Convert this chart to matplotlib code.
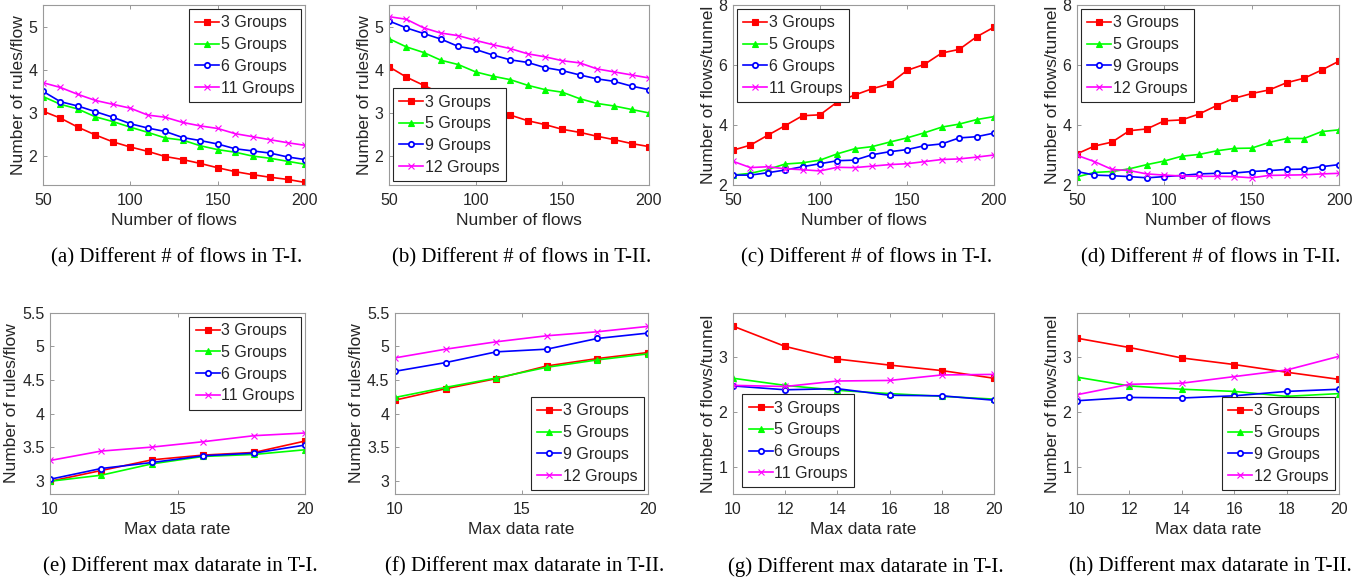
"""Eight small line charts: rules/flow and flows/tunnel for T-I and T-II."""

import matplotlib

matplotlib.use("Agg")
import matplotlib.pyplot as plt

plt.rcParams["font.family"] = ["Liberation Sans", "DejaVu Sans"]

flows = [50, 60, 70, 80, 90, 100, 110, 120, 130, 140, 150, 160, 170, 180, 190, 200]
rates = [10, 12, 14, 16, 18, 20]

labels_t1 = ["3 Groups", "5 Groups", "6 Groups", "11 Groups"]
labels_t2 = ["3 Groups", "5 Groups", "9 Groups", "12 Groups"]

# (a) rules/flow vs flows, T-I
rules_flows_t1 = [
    [3.04, 2.88, 2.67, 2.49, 2.33, 2.21, 2.11, 1.99, 1.92, 1.83, 1.73, 1.64, 1.57, 1.51, 1.46, 1.39],
    [3.38, 3.20, 3.09, 2.91, 2.80, 2.67, 2.55, 2.42, 2.37, 2.24, 2.15, 2.09, 2.00, 1.95, 1.88, 1.81],
    [3.50, 3.26, 3.16, 3.03, 2.90, 2.75, 2.65, 2.57, 2.43, 2.36, 2.28, 2.17, 2.12, 2.07, 1.98, 1.92],
    [3.70, 3.59, 3.43, 3.29, 3.20, 3.11, 2.95, 2.90, 2.78, 2.70, 2.64, 2.52, 2.45, 2.38, 2.31, 2.25],
]
# (b) rules/flow vs flows, T-II
rules_flows_t2 = [
    [4.07, 3.83, 3.64, 3.45, 3.33, 3.22, 3.12, 2.95, 2.82, 2.73, 2.62, 2.55, 2.46, 2.38, 2.29, 2.22],
    [4.72, 4.53, 4.40, 4.22, 4.12, 3.95, 3.85, 3.77, 3.64, 3.54, 3.48, 3.33, 3.22, 3.16, 3.08, 3.00],
    [5.13, 4.97, 4.84, 4.71, 4.54, 4.47, 4.34, 4.23, 4.17, 4.05, 3.98, 3.88, 3.79, 3.73, 3.62, 3.54],
    [5.23, 5.17, 4.97, 4.85, 4.79, 4.68, 4.58, 4.49, 4.37, 4.30, 4.21, 4.16, 4.02, 3.95, 3.88, 3.81],
]
# (c) flows/tunnel vs flows, T-I
tunnel_flows_t1 = [
    [3.16, 3.33, 3.66, 3.98, 4.31, 4.34, 4.77, 5.00, 5.21, 5.37, 5.82, 6.02, 6.40, 6.52, 6.94, 7.26],
    [2.33, 2.39, 2.52, 2.70, 2.74, 2.83, 3.04, 3.21, 3.28, 3.43, 3.57, 3.74, 3.93, 4.03, 4.18, 4.28],
    [2.33, 2.33, 2.41, 2.50, 2.61, 2.71, 2.81, 2.83, 3.01, 3.11, 3.18, 3.31, 3.37, 3.57, 3.61, 3.73],
    [2.79, 2.58, 2.61, 2.54, 2.51, 2.47, 2.59, 2.58, 2.63, 2.68, 2.71, 2.78, 2.85, 2.87, 2.93, 3.00],
]
# (d) flows/tunnel vs flows, T-II
tunnel_flows_t2 = [
    [3.04, 3.30, 3.43, 3.81, 3.87, 4.14, 4.17, 4.37, 4.65, 4.89, 5.05, 5.17, 5.41, 5.56, 5.83, 6.13],
    [2.27, 2.42, 2.45, 2.54, 2.68, 2.80, 2.96, 3.02, 3.14, 3.22, 3.23, 3.42, 3.55, 3.55, 3.78, 3.84],
    [2.45, 2.33, 2.31, 2.28, 2.24, 2.28, 2.32, 2.37, 2.39, 2.40, 2.45, 2.48, 2.52, 2.53, 2.61, 2.68],
    [2.99, 2.78, 2.52, 2.48, 2.37, 2.33, 2.30, 2.29, 2.29, 2.28, 2.24, 2.32, 2.33, 2.34, 2.37, 2.39],
]
# (e) rules/flow vs max data rate, T-I
rules_rate_t1 = [
    [2.99, 3.15, 3.31, 3.38, 3.42, 3.59],
    [2.99, 3.08, 3.25, 3.36, 3.39, 3.46],
    [3.02, 3.18, 3.27, 3.37, 3.41, 3.53],
    [3.30, 3.44, 3.50, 3.58, 3.67, 3.71],
]
# (f) rules/flow vs max data rate, T-II
rules_rate_t2 = [
    [4.20, 4.37, 4.52, 4.71, 4.82, 4.91],
    [4.24, 4.39, 4.53, 4.69, 4.80, 4.89],
    [4.63, 4.76, 4.92, 4.96, 5.12, 5.20],
    [4.83, 4.96, 5.07, 5.16, 5.22, 5.30],
]
# (g) flows/tunnel vs max data rate, T-I
tunnel_rate_t1 = [
    [3.56, 3.19, 2.96, 2.85, 2.75, 2.61],
    [2.61, 2.48, 2.39, 2.33, 2.28, 2.23],
    [2.47, 2.40, 2.42, 2.30, 2.29, 2.21],
    [2.48, 2.46, 2.56, 2.57, 2.67, 2.68],
]
# (h) flows/tunnel vs max data rate, T-II
tunnel_rate_t2 = [
    [3.34, 3.17, 2.98, 2.86, 2.72, 2.59],
    [2.63, 2.47, 2.41, 2.37, 2.28, 2.33],
    [2.20, 2.26, 2.25, 2.29, 2.37, 2.41],
    [2.31, 2.50, 2.52, 2.64, 2.76, 3.01],
]

captions = [
    "(a) Different # of flows in T-I.",
    "(b) Different # of flows in T-II.",
    "(c) Different # of flows in T-I.",
    "(d) Different # of flows in T-II.",
    "(e) Different max datarate in T-I.",
    "(f) Different max datarate in T-II.",
    "(g) Different max datarate in T-I.",
    "(h) Different max datarate in T-II.",
]

colors = ["#ff0000", "#00ff00", "#0000ff", "#ff00ff"]
markers = ["s", "^", "o", "x"]
gray = "#262626"


def draw_panel(fig, rect, x, series, labels, ylim, yticks, xticks, xlabel, ylabel,
               legend_loc, legend_anchor=None):
    """Draw one MATLAB-like line panel."""
    ax = fig.add_axes(rect)
    for i, ys in enumerate(series):
        face = "white" if markers[i] == "o" else colors[i]
        ax.plot(x, ys, color=colors[i], marker=markers[i], markersize=3.8,
                markerfacecolor=face, markeredgecolor=colors[i],
                markeredgewidth=1.3 if markers[i] == "o" else 0.8,
                linewidth=1.2, label=labels[i])
    ax.set_xlim(x[0], x[-1])
    ax.set_ylim(*ylim)
    ax.set_xticks(xticks)
    ax.set_yticks(yticks)
    ax.set_yticklabels([f"{t:g}" for t in yticks])
    ax.tick_params(direction="in", length=3, width=0.6, colors="#888888",
                   labelcolor=gray, labelsize=11.5, top=True, right=False)
    ax.tick_params(axis="x", pad=6)
    ax.tick_params(axis="y", pad=4)
    for s in ax.spines.values():
        s.set_color("#9a9a9a")
        s.set_linewidth(0.8)
    ax.set_xlabel(xlabel, fontsize=12.5, color=gray, labelpad=3)
    ax.set_ylabel(ylabel, fontsize=12.5, color=gray, labelpad=2)
    leg = ax.legend(loc=legend_loc, bbox_to_anchor=legend_anchor, fontsize=11.5,
                    handlelength=1.5, handletextpad=0.1, labelspacing=0.42,
                    borderpad=0.4, borderaxespad=0.25, fancybox=False,
                    framealpha=1.0)
    leg.get_frame().set_edgecolor("#262626")
    leg.get_frame().set_linewidth(0.8)
    for t in leg.get_texts():
        t.set_color(gray)
    return ax


fig = plt.figure(figsize=(13.64, 5.84), dpi=100)

top_row = [0.6832, 0.3082]
bot_row = [0.1541, 0.3100]
lefts_top = [(0.0315, 0.1921), (0.2852, 0.1906), (0.5374, 0.1913), (0.7896, 0.1921)]
lefts_bot = [(0.0367, 0.1870), (0.2896, 0.1855), (0.5374, 0.1913), (0.7896, 0.1921)]

flow_ticks = [50, 100, 150, 200]
rl = "Number of rules/flow"
tl = "Number of flows/tunnel"

panels = [
    (lefts_top[0], top_row, flows, rules_flows_t1, labels_t1, (1.33, 5.5), [2, 3, 4, 5],
     flow_ticks, "Number of flows", rl, "upper right", None),
    (lefts_top[1], top_row, flows, rules_flows_t2, labels_t2, (1.33, 5.5), [2, 3, 4, 5],
     flow_ticks, "Number of flows", rl, "lower left", None),
    (lefts_top[2], top_row, flows, tunnel_flows_t1, labels_t1, (2, 8), [2, 4, 6, 8],
     flow_ticks, "Number of flows", tl, "upper left", None),
    (lefts_top[3], top_row, flows, tunnel_flows_t2, labels_t2, (2, 8), [2, 4, 6, 8],
     flow_ticks, "Number of flows", tl, "upper left", None),
    (lefts_bot[0], bot_row, rates, rules_rate_t1, labels_t1, (2.8, 5.5),
     [3, 3.5, 4, 4.5, 5, 5.5], [10, 15, 20], "Max data rate", rl, "upper right", None),
    (lefts_bot[1], bot_row, rates, rules_rate_t2, labels_t2, (2.8, 5.5),
     [3, 3.5, 4, 4.5, 5, 5.5], [10, 15, 20], "Max data rate", rl, "lower right", None),
    (lefts_bot[2], bot_row, rates, tunnel_rate_t1, labels_t1, (0.5, 3.8), [1, 2, 3],
     rates, "Max data rate", tl, "lower left", (0.02, 0.015)),
    (lefts_bot[3], bot_row, rates, tunnel_rate_t2, labels_t2, (0.5, 3.8), [1, 2, 3],
     rates, "Max data rate", tl, "lower right", None),
]

for k, p in enumerate(panels):
    (l, w), (b, h) = p[0], p[1]
    ax = draw_panel(fig, [l, b, w, h], *p[2:])
    cy = 0.558 if k < 4 else 0.029
    fig.text(l + w / 2 + 0.002, cy, captions[k], ha="center", va="center",
             fontsize=15, family=["Liberation Serif", "DejaVu Serif"], color="black")

fig.savefig("out.png", dpi=100)
